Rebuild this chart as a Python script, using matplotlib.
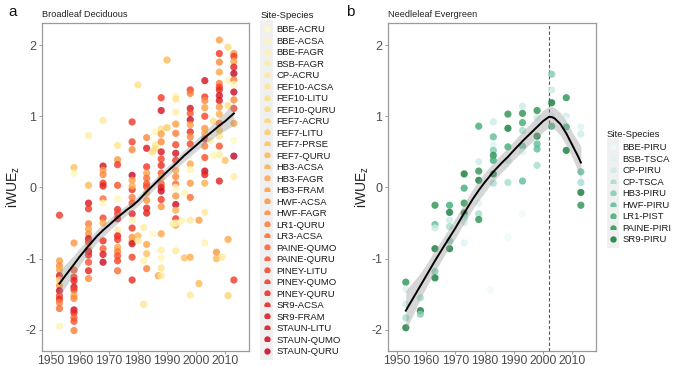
import numpy as np
import matplotlib
matplotlib.use("Agg")
import matplotlib.pyplot as plt
from matplotlib.lines import Line2D
from matplotlib.patches import Rectangle
from matplotlib.legend_handler import HandlerBase

plt.rcParams['font.family'] = ['Liberation Sans', 'DejaVu Sans']
plt.rcParams['mathtext.default'] = 'regular'
plt.rcParams['axes.unicode_minus'] = False

# ---- Broadleaf deciduous sites ----
bd_sites = ['BBE-ACRU', 'BBE-ACSA', 'BBE-FAGR', 'BSB-FAGR', 'CP-ACRU', 'FEF10-ACSA',
            'FEF10-LITU', 'FEF10-QURU', 'FEF7-ACRU', 'FEF7-LITU', 'FEF7-PRSE', 'FEF7-QURU',
            'HB3-ACSA', 'HB3-FAGR', 'HB3-FRAM', 'HWF-ACSA', 'HWF-FAGR', 'LR1-QURU',
            'LR3-ACSA', 'PAINE-QUMO', 'PAINE-QURU', 'PINEY-LITU', 'PINEY-QUMO', 'PINEY-QURU',
            'SR9-ACSA', 'SR9-FRAM', 'STAUN-LITU', 'STAUN-QUMO', 'STAUN-QURU']

bd_year = [
    1953, 1953, 1953, 1953, 1953, 1953, 1953, 1953, 1953, 1953, 1953, 1953, 1953,
    1958, 1958, 1958, 1958, 1958, 1958, 1958, 1958, 1958, 1958, 1958, 1958, 1958, 1958, 1958,
    1963, 1963, 1963, 1963, 1963, 1963, 1963, 1963, 1963, 1963, 1963, 1963, 1963, 1963, 1963,
    1968, 1968, 1968, 1968, 1968, 1968, 1968, 1968, 1968, 1968, 1968, 1968, 1968, 1968,
    1973, 1973, 1973, 1973, 1973, 1973, 1973, 1973, 1973, 1973, 1973, 1973, 1973, 1973, 1973, 1973,
    1978, 1978, 1978, 1978, 1978, 1978, 1978, 1978, 1978, 1978, 1978, 1978, 1978, 1978, 1978, 1978, 1978,
    1980, 1980, 1980,
    1983, 1983, 1983, 1983, 1983, 1983, 1983, 1983, 1983, 1983, 1983, 1983, 1983, 1983,
    1982, 1982, 1982, 1986, 1986, 1985, 1987, 1988, 1986, 1985,
    1988, 1988, 1988, 1988, 1988, 1988, 1988, 1988, 1988, 1988, 1988, 1988, 1988, 1988, 1988, 1988,
    1988, 1988, 1988, 1990, 1990,
    1993, 1993, 1993, 1993, 1993, 1993, 1993, 1993, 1993, 1993, 1993, 1993, 1993, 1993, 1993, 1993,
    1993, 1993, 1993, 1992, 1995, 1996, 1996,
    1998, 1998, 1998, 1998, 1998, 1998, 1998, 1998, 1998, 1998, 1998, 1998, 1998, 1998, 1998, 1998,
    2003, 2003, 2003, 2003, 2003, 2003, 2003, 2003, 2003, 2003, 2003, 2003, 2003, 2003, 2003,
    2001, 2001, 2006, 2005, 2006,
    2008, 2008, 2008, 2008, 2008, 2008, 2008, 2008, 2008, 2008, 2008, 2008, 2008, 2008, 2008, 2008, 2008,
    2007, 2007, 2009,
    2011, 2011, 2011, 2011, 2011, 2010,
    2013, 2013, 2013, 2013, 2013, 2013, 2013, 2013, 2013, 2013, 2013, 2013, 2013, 2013, 2013,
]
bd_iwue = [
    -0.39, -1.03, -1.10, -1.16, -1.24, -1.30, -1.38, -1.45, -1.52, -1.57, -1.62, -1.70, -1.95,
    0.28, 0.20, -0.78, -1.16, -1.26, -1.31, -1.40, -1.44, -1.52, -1.56, -1.72, -1.76, -1.83, -1.88, -2.01,
    0.73, 0.03, -0.22, -0.30, -0.51, -0.58, -0.65, -0.72, -0.77, -0.86, -0.90, -0.95, -1.05, -1.17, -1.28,
    0.94, 0.30, 0.24, 0.18, 0.06, 0.02, -0.16, -0.22, -0.43, -0.50, -0.75, -0.86, -0.94, -1.05,
    0.59, 0.39, 0.32, 0.03, -0.16, -0.31, -0.37, -0.44, -0.60, -0.68, -0.73, -0.84, -0.90, -0.96, -1.03, -1.17,
    0.92, 0.64, 0.53, 0.17, 0.10, -0.03, 0.02, -0.14, -0.22, -0.37, -0.46, -0.57, -0.70, -0.76, -0.79, -0.98, -1.30,
    1.44, -0.68, -0.75,
    0.70, 0.55, 0.29, 0.20, 0.13, 0.01, 0.05, -0.08, -0.18, -0.29, -0.36, -0.80, -0.93, -1.14,
    -0.56, -1.03, -1.64, 0.78, 0.60, -0.65, -1.24, -1.24, 0.55, 0.50,
    1.26, 1.08, 0.82, 0.75, 0.64, 0.50, 0.40, 0.31, 0.20, 0.14, 0.05, 0.00, -0.05, -0.17, -0.27, -0.65,
    -0.88, -0.99, -1.13, 1.79, 0.84,
    1.28, 1.24, 1.06, 0.89, 0.76, 0.60, 0.48, 0.38, 0.24, 0.15, 0.05, 0.00, -0.12, -0.24, -0.32, -0.44,
    -0.53, -0.50, -0.89, -0.51, -0.47, -0.08, -0.99,
    1.37, 1.32, 1.11, 1.04, 0.95, 0.88, 0.78, 0.71, 0.61, 0.33, 0.25, -0.46, -0.98, -1.51, 0.06, -0.14,
    1.50, 1.27, 1.22, 1.12, 1.00, 0.83, 0.76, 0.68, 0.58, 0.42, 0.23, 0.18, 0.06, -0.35, -0.78,
    -0.46, -1.35, 0.93, 0.66, 0.45,
    2.07, 1.88, 1.76, 1.62, 1.46, 1.41, 1.37, 1.29, 1.22, 1.13, 1.03, 0.90, 0.80, 0.72, 0.58, 0.46, 0.09,
    -0.91, -1.00, -0.98,
    1.97, 1.50, 1.15, -0.73, -1.52, 0.38,
    1.88, 1.84, 1.77, 1.69, 1.60, 1.51, 1.45, 1.34, 1.23, 1.11, 0.90, 0.66, 0.44, 0.15, -1.30,
]
bd_site = [
    22, 14, 16, 13, 25, 9, 15, 27, 21, 23, 17, 18, 2,
    10, 1, 15, 20, 22, 24, 26, 21, 14, 16, 27, 23, 19, 20, 17,
    3, 11, 25, 22, 17, 13, 15, 26, 21, 12, 27, 23, 20, 24, 16,
    4, 26, 14, 16, 22, 24, 18, 0, 21, 12, 23, 19, 25, 27,
    5, 15, 22, 20, 1, 23, 21, 26, 3, 24, 22, 13, 17, 20, 21, 18,
    22, 21, 16, 27, 14, 23, 12, 17, 20, 24, 2, 22, 15, 13, 26, 21, 23,
    6, 11, 4,
    16, 25, 22, 14, 18, 21, 20, 12, 15, 23, 24, 13, 10, 17,
    3, 2, 5, 1, 4, 0, 13, 4, 6, 7,
    22, 26, 6, 14, 16, 25, 21, 23, 20, 12, 19, 24, 27, 22, 15, 13,
    3, 1, 5, 11, 9,
    2, 5, 3, 14, 17, 21, 26, 22, 13, 16, 18, 1, 15, 27, 12, 22,
    14, 0, 4, 3, 2, 1, 10,
    22, 17, 26, 20, 27, 14, 23, 16, 21, 13, 2, 3, 12, 4, 15, 18,
    26, 22, 16, 14, 21, 15, 13, 23, 17, 20, 27, 24, 12, 4, 2,
    14, 11, 6, 3, 1,
    14, 22, 16, 13, 17, 21, 23, 26, 25, 15, 12, 18, 10, 5, 20, 3, 24,
    15, 11, 4,
    7, 2, 6, 13, 8, 10,
    15, 22, 13, 24, 28, 17, 1, 27, 16, 21, 14, 0, 28, 3, 22,
]

bd_fit_year = [1953, 1955, 1958, 1960, 1963, 1966, 1968, 1970, 1973, 1976, 1978, 1980,
               1983, 1986, 1988, 1990, 1993, 1996, 1998, 2000, 2003, 2006, 2008, 2010, 2013]
bd_fit = [-1.35, -1.24, -1.08, -0.97, -0.82, -0.68, -0.60, -0.53, -0.42, -0.32, -0.26, -0.19,
          -0.06, 0.06, 0.14, 0.22, 0.33, 0.45, 0.52, 0.59, 0.70, 0.80, 0.87, 0.93, 1.04]
bd_se = [0.19, 0.16, 0.13, 0.12, 0.10, 0.09, 0.09, 0.08, 0.08, 0.07, 0.07, 0.07,
         0.07, 0.07, 0.07, 0.07, 0.07, 0.08, 0.08, 0.08, 0.09, 0.10, 0.11, 0.13, 0.16]

# ---- Needleleaf evergreen sites ----
ne_sites = ['BBE-PIRU', 'BSB-TSCA', 'CP-PIRU', 'CP-TSCA', 'HB3-PIRU', 'HWF-PIRU',
            'LR1-PIST', 'PAINE-PIRI', 'SR9-PIRU']

ne_year = [
    1953, 1953, 1953, 1953, 1953,
    1958, 1958, 1958,
    1963, 1963, 1963, 1963, 1963, 1963,
    1968, 1968, 1968, 1968, 1968, 1968,
    1973, 1973, 1973, 1973, 1973, 1973, 1973,
    1978, 1978, 1978, 1978, 1978, 1978, 1978,
    1982,
    1983, 1983, 1983, 1983, 1983, 1983, 1983, 1983,
    1988, 1988, 1988, 1988, 1988, 1988,
    1993, 1993, 1993, 1993, 1993, 1993, 1993, 1993,
    1998, 1998, 1998, 1998, 1998, 1998,
    2003, 2003, 2003, 2003, 2003,
    2008, 2008, 2008, 2008, 2008,
    2013, 2013, 2013, 2013, 2013, 2013,
]
ne_iwue = [
    -1.33, -1.43, -1.64, -1.83, -1.97,
    -1.55, -1.73, -1.78,
    -0.25, -0.52, -0.57, -0.86, -1.18, -1.27,
    -0.25, -0.35, -0.46, -0.55, -0.75, -0.86,
    0.19, -0.01, -0.22, -0.36, -0.42, -0.49, -0.78,
    0.86, 0.36, 0.23, 0.10, -0.22, -0.37, -0.45,
    -1.44,
    0.92, 0.71, 0.60, 0.52, 0.45, 0.38, 0.19, 0.06,
    1.03, 0.83, 0.57, 0.38, 0.07, -0.70,
    1.14, 1.04, 0.91, 0.80, 0.58, 0.50, 0.09, -0.37,
    1.08, 0.98, 0.72, 0.61, 0.54, 0.31,
    1.59, 1.37, 1.19, 0.86, 1.00,
    1.26, 1.00, 0.85, 0.52, 0.95,
    0.85, 0.75, 0.22, 0.07, -0.07, -0.25,
]
ne_site = [
    7, 1, 2, 3, 8,
    3, 8, 4,
    7, 5, 2, 8, 4, 8,
    6, 8, 2, 3, 4, 8,
    8, 6, 7, 8, 3, 2, 1,
    6, 2, 7, 8, 1, 3, 7,
    0,
    2, 5, 1, 4, 7, 6, 8, 3,
    7, 8, 6, 2, 3, 0,
    2, 7, 6, 3, 5, 1, 5, 0,
    7, 2, 8, 5, 5, 3,
    4, 2, 8, 6, 1,
    7, 2, 6, 8, 0,
    1, 2, 5, 3, 8, 7,
]

ne_fit_year = [1953, 1955, 1958, 1960, 1963, 1966, 1968, 1970, 1973, 1976, 1978, 1980,
               1983, 1986, 1988, 1990, 1993, 1996, 1998, 2000, 2002, 2003, 2004, 2006,
               2008, 2010, 2011, 2012, 2013]
ne_fit = [-1.73, -1.59, -1.38, -1.24, -1.03, -0.83, -0.70, -0.57, -0.36, -0.16, -0.04, 0.07,
          0.22, 0.35, 0.43, 0.52, 0.65, 0.77, 0.85, 0.93, 0.99, 0.99, 0.97, 0.89,
          0.76, 0.60, 0.52, 0.44, 0.35]
ne_se = [0.28, 0.24, 0.18, 0.16, 0.15, 0.14, 0.14, 0.14, 0.14, 0.14, 0.14, 0.14,
         0.13, 0.13, 0.13, 0.13, 0.14, 0.14, 0.15, 0.15, 0.15, 0.15, 0.15, 0.16,
         0.17, 0.18, 0.19, 0.21, 0.23]
vline_year = 2002

bd_colors = plt.get_cmap('YlOrRd')(np.linspace(0.03, 0.86, len(bd_sites)))
ne_colors = plt.get_cmap('BuGn')(np.linspace(0.06, 0.82, len(ne_sites)))


class KeyHandler(HandlerBase):
    # grey ggplot-style key box with a dot in it
    def create_artists(self, legend, orig_handle, xdescent, ydescent,
                       width, height, fontsize, trans):
        pad = 0.5 * fontsize
        bg = Rectangle((-xdescent, -ydescent - pad), width, height + 2 * pad,
                       facecolor='#f0f0f0', edgecolor='none', transform=trans)
        dot = Line2D([width / 2 - xdescent], [height / 2 - ydescent], marker='o',
                     markersize=4.6, markeredgewidth=0, linestyle='',
                     color=orig_handle.get_color(), alpha=0.85, transform=trans)
        return [bg, dot]


def draw_panel(ax, year, iwue, site, colors, fit_year, fit, se, title, label_x):
    ax.scatter(year, iwue, c=[colors[s] for s in site], s=27, alpha=0.8,
               linewidths=0, zorder=2)
    fit = np.array(fit)
    se = np.array(se)
    ax.fill_between(fit_year, fit - se, fit + se, color='#9a9a9a', alpha=0.4,
                    linewidth=0, zorder=3)
    ax.plot(fit_year, fit, color='black', lw=1.4, zorder=4)
    ax.set_xlim(1946.9, 2018.2)
    ax.set_ylim(-2.29, 2.31)
    ax.set_xticks([1950, 1960, 1970, 1980, 1990, 2000, 2010])
    ax.set_yticks([-2, -1, 0, 1, 2])
    for sp in ax.spines.values():
        sp.set_color('#9a9a9a')
        sp.set_linewidth(0.9)
    ax.tick_params(length=2.5, width=0.7, color='#9a9a9a', labelcolor='#4d4d4d',
                   labelsize=9, pad=1.5)
    ax.tick_params(axis='x', labelsize=8.8, pad=0.6)
    ax.set_ylabel('iWUE$_z$', fontsize=10, color='#222222')
    ax.yaxis.set_label_coords(label_x, 0.5)
    ax.set_title(title, loc='left', fontsize=6.6, color='#222222', pad=4)


def add_legend(ax, names, colors, anchor):
    handles = [Line2D([], [], color=c, marker='o', linestyle='') for c in colors]
    leg = ax.legend(handles, names, loc='upper left', bbox_to_anchor=anchor,
                    bbox_transform=fig.transFigure, frameon=False, fontsize=6.8,
                    title='Site-Species', title_fontsize=6.8, alignment='left',
                    handler_map={Line2D: KeyHandler()}, handlelength=1.35,
                    handleheight=1.0, labelspacing=0.215, handletextpad=0.35,
                    borderpad=0, borderaxespad=0)
    leg._legend_box.sep = 3.2
    for t in leg.get_texts():
        t.set_color('#1a1a1a')
    leg.get_title().set_color('#1a1a1a')
    return leg


fig = plt.figure(figsize=(6.74, 3.66), dpi=100)
ax1 = fig.add_axes([0.0619, 0.0423, 0.3075, 0.895])
ax2 = fig.add_axes([0.5757, 0.0423, 0.3086, 0.895])

draw_panel(ax1, bd_year, bd_iwue, bd_site, bd_colors, bd_fit_year, bd_fit, bd_se,
           'Broadleaf Deciduous', -0.095)
draw_panel(ax2, ne_year, ne_iwue, ne_site, ne_colors, ne_fit_year, ne_fit, ne_se,
           'Needleleaf Evergreen', -0.082)
ax2.axvline(vline_year, color='#555555', lw=0.8, ls=(0, (3, 2)), zorder=1)

add_legend(ax1, bd_sites, bd_colors, (0.386, 0.969))
add_legend(ax2, ne_sites, ne_colors, (0.9, 0.646))

fig.text(0.012, 0.955, 'a', fontsize=11, color='#111111')
fig.text(0.513, 0.955, 'b', fontsize=11, color='#111111')

fig.savefig('out.png', dpi=100)
